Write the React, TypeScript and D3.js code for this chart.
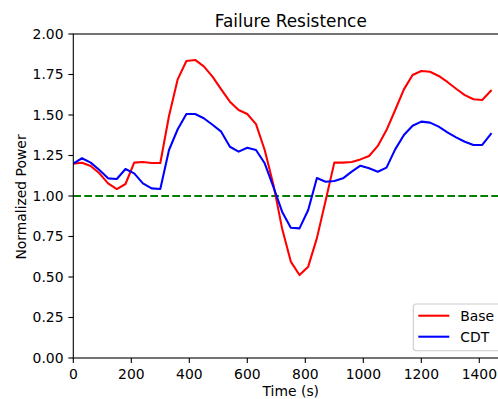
import React from "react";
import * as d3 from "d3";

// sample times (s), every 30 s
const times = d3.range(0, 1441, 30);

const baseValues = [
  1.2, 1.205, 1.185, 1.14, 1.078, 1.043, 1.074, 1.206, 1.21, 1.204, 1.204,
  1.494, 1.72, 1.833, 1.84, 1.8, 1.737, 1.658, 1.582, 1.531, 1.506, 1.444,
  1.284, 1.07, 0.8, 0.595, 0.512, 0.564, 0.74, 0.97, 1.206, 1.206, 1.21,
  1.226, 1.247, 1.309, 1.407, 1.531, 1.658, 1.747, 1.772, 1.767, 1.741,
  1.704, 1.662, 1.623, 1.597, 1.593, 1.65,
];

const cdtValues = [
  1.2, 1.233, 1.206, 1.16, 1.109, 1.105, 1.167, 1.14, 1.078, 1.047, 1.043,
  1.284, 1.412, 1.506, 1.506, 1.48, 1.44, 1.397, 1.304, 1.274, 1.298, 1.284,
  1.202, 1.057, 0.903, 0.804, 0.8, 0.914, 1.111, 1.088, 1.093, 1.109, 1.15,
  1.187, 1.171, 1.15, 1.175, 1.288, 1.377, 1.434, 1.459, 1.453, 1.428,
  1.393, 1.362, 1.335, 1.315, 1.315, 1.383,
];

const xTicks = [0, 200, 400, 600, 800, 1000, 1200, 1400];
const yTicks = [0, 0.25, 0.5, 0.75, 1.0, 1.25, 1.5, 1.75, 2.0];

const series = [
  { name: "Base", color: "#ff0000", values: baseValues },
  { name: "CDT", color: "#0000ff", values: cdtValues },
];

const font = "DejaVu Sans, sans-serif";

export default function App() {
  const W = 498;
  const H = 399;
  const left = 73.3;
  const top = 34;
  const bottom = 358;
  const pxPerSec = 406 / 1400;
  const right = left + 1500 * pxPerSec; // right spine falls just outside the picture

  const x = d3.scaleLinear().domain([0, 1500]).range([left, right]);
  const y = d3.scaleLinear().domain([0, 2]).range([bottom, top]);

  const line = d3
    .line<number>()
    .x((_, i) => x(times[i]))
    .y((d) => y(d));

  const cx = (left + right) / 2;
  const cy = (top + bottom) / 2;

  return (
    <svg
      width={W}
      height={H}
      style={{ position: "absolute", left: 0, top: 0, background: "#fff" }}
      fontFamily={font}
    >
      <defs>
        <clipPath id="plot">
          <rect x={left} y={top} width={right - left} height={bottom - top} />
        </clipPath>
      </defs>

      {/* reference line */}
      <line
        x1={left}
        x2={right}
        y1={y(1)}
        y2={y(1)}
        stroke="#008000"
        strokeWidth={2.08}
        strokeDasharray="7.7 3.3"
      />

      <g clipPath="url(#plot)">
        {series.map((s) => (
          <path
            key={s.name}
            d={line(s.values) || ""}
            fill="none"
            stroke={s.color}
            strokeWidth={2.08}
            strokeLinejoin="round"
            strokeLinecap="square"
          />
        ))}
      </g>

      {/* spines */}
      <rect
        x={left}
        y={top}
        width={right - left}
        height={bottom - top}
        fill="none"
        stroke="#000"
        strokeWidth={1.1}
      />

      {/* x axis */}
      {xTicks.map((t) => (
        <g key={t} transform={`translate(${x(t)},${bottom})`}>
          <line y2={4.9} stroke="#000" strokeWidth={1.1} />
          <text y={20.5} textAnchor="middle" fontSize={13.9} fill="#000">
            {t}
          </text>
        </g>
      ))}
      <text x={cx} y={396} textAnchor="middle" fontSize={13.9}>
        Time (s)
      </text>

      {/* y axis */}
      {yTicks.map((t) => (
        <g key={t} transform={`translate(${left},${y(t)})`}>
          <line x2={-4.9} stroke="#000" strokeWidth={1.1} />
          <text x={-9.8} dy="0.35em" textAnchor="end" fontSize={13.9} fill="#000">
            {t.toFixed(2)}
          </text>
        </g>
      ))}
      <text
        transform={`translate(26,${cy + 1}) rotate(-90)`}
        textAnchor="middle"
        fontSize={13.9}
      >
        Normalized Power
      </text>

      {/* title */}
      <text x={cx} y={26.5} textAnchor="middle" fontSize={16.9}>
        Failure Resistence
      </text>

      {/* legend */}
      <g transform={`translate(413.3,304)`}>
        <rect
          width={right - 7 - 413.3}
          height={46.7}
          rx={2.8}
          fill="#fff"
          fillOpacity={0.8}
          stroke="#cccccc"
          strokeWidth={1.1}
        />
        {series.map((s, i) => (
          <g key={s.name} transform={`translate(0,${11.7 + i * 21})`}>
            <line x1={5} x2={36} stroke={s.color} strokeWidth={2.08} />
            <text x={47} dy="0.35em" fontSize={13.9}>
              {s.name}
            </text>
          </g>
        ))}
      </g>
    </svg>
  );
}
